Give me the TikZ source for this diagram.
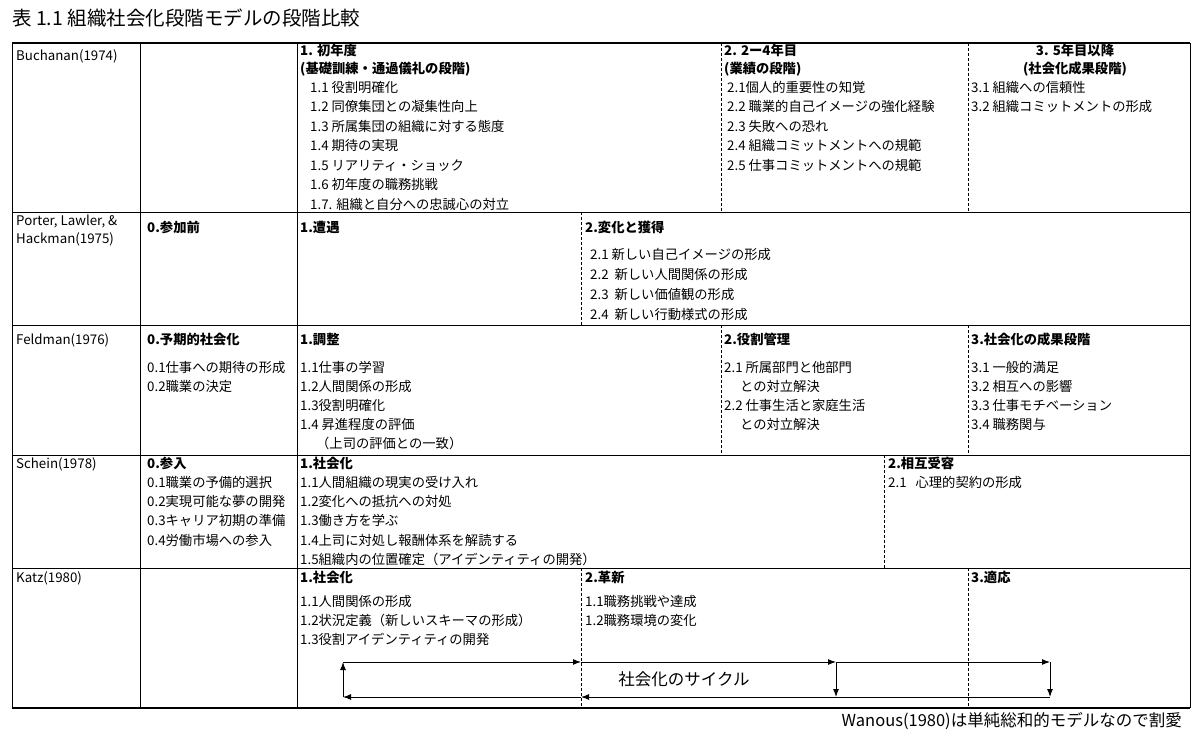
\documentclass[tikz,border=0pt]{standalone}
\usepackage{fontspec}
\setmainfont{Noto Sans CJK JP}
\usetikzlibrary{arrows.meta}
\newcommand\tx[5][]{\node[txt,#1] (#2) at (#3pt,-#4pt) {#5};}
\tikzset{txt/.style={anchor=north west,inner sep=0pt,font=\fontsize{13.3}{15}\selectfont},
 hd/.style={font=\fontsize{13.3}{15}\selectfont\bfseries},
 grid/.style={line width=0.8pt},
 dsh/.style={line width=0.7pt,dash pattern=on 3pt off 2pt},
 cyc/.style={line width=1pt,-{Latex[length=8pt,width=6pt]}},
 cycl/.style={line width=1pt}}
\begin{document}
\begin{tikzpicture}[x=1pt,y=1pt]
\useasboundingbox (0,0) rectangle (1200,-743);
\node[anchor=west,inner sep=0pt,font=\fontsize{19.5}{21}\selectfont] (title) at (12pt,-18pt) {表 1.1 組織社会化段階モデルの段階比較};
% grid
\draw[line width=1.3pt] (12,-43) -- (1190,-43);
\foreach \y in {212,325,455,568}{\draw[grid] (12,-\y) -- (1190,-\y);}
\draw[line width=1.3pt] (12,-708) -- (1190,-708);
\foreach \x in {12,140,297,1190}{\draw[grid] (\x,-43) -- (\x,-708);}
\draw[dsh] (721,-43) -- (721,-212); \draw[dsh] (968,-43) -- (968,-212);
\draw[dsh] (581,-212) -- (581,-325);
\draw[dsh] (721,-325) -- (721,-455); \draw[dsh] (968,-325) -- (968,-455);
\draw[dsh] (884,-455) -- (884,-568);
\draw[dsh] (581,-568) -- (581,-708); \draw[dsh] (968,-568) -- (968,-708);
% Buchanan
\tx{bu}{16}{49}{Buchanan(1974)}
\tx[hd]{b1}{300}{44}{1. 初年度}
\tx[hd]{b1b}{300}{62}{(基礎訓練・通過儀礼の段階)}
\node[txt,align=left,font=\fontsize{13.3}{19.5}\selectfont] (b1i) at (310pt,-81pt) {1.1 役割明確化\\1.2 同僚集団との凝集性向上\\1.3 所属集団の組織に対する態度\\1.4 期待の実現\\1.5 リアリティ・ショック\\1.6 初年度の職務挑戦\\1.7. 組織と自分への忠誠心の対立};
\tx[hd]{b2}{724}{44}{2. 2ー4年目}
\tx[hd]{b2b}{724}{62}{(業績の段階)}
\node[txt,align=left,font=\fontsize{13.3}{19.5}\selectfont] (b2i) at (727pt,-81pt) {2.1個人的重要性の知覚\\2.2 職業的自己イメージの強化経験\\2.3 失敗への恐れ\\2.4 組織コミットメントへの規範\\2.5 仕事コミットメントへの規範};
\node[txt,hd,anchor=north] (b3) at (1075pt,-44pt) {3. 5年目以降};
\node[txt,hd,anchor=north] (b3b) at (1075pt,-62pt) {(社会化成果段階)};
\node[txt,align=left,font=\fontsize{13.3}{19.5}\selectfont] (b3i) at (971pt,-81pt) {3.1 組織への信頼性\\3.2 組織コミットメントの形成};
% Porter
\node[txt,align=left,font=\fontsize{13.3}{18}\selectfont] (po) at (16pt,-215pt) {Porter, Lawler, \&\\Hackman(1975)};
\tx[hd]{p0}{147}{221}{0.参加前}
\tx[hd]{p1}{300}{221}{1.遭遇}
\tx[hd]{p2}{585}{221}{2.変化と獲得}
\node[txt,align=left,font=\fontsize{13.3}{20}\selectfont] (p2i) at (590pt,-248pt) {2.1 新しい自己イメージの形成\\2.2\ \ 新しい人間関係の形成\\2.3\ \ 新しい価値観の形成\\2.4\ \ 新しい行動様式の形成};
% Feldman
\tx{fe}{16}{333}{Feldman(1976)}
\tx[hd]{f0}{147}{333}{0.予期的社会化}
\node[txt,align=left,font=\fontsize{13.3}{19}\selectfont] (f0i) at (147pt,-361pt) {0.1仕事への期待の形成\\0.2職業の決定};
\tx[hd]{f1}{300}{333}{1.調整}
\node[txt,align=left,font=\fontsize{13.3}{19}\selectfont] (f1i) at (300pt,-361pt) {1.1仕事の学習\\1.2人間関係の形成\\1.3役割明確化\\1.4 昇進程度の評価\\\hspace{1.2em}（上司の評価との一致）};
\tx[hd]{f2}{724}{333}{2.役割管理}
\node[txt,align=left,font=\fontsize{13.3}{19}\selectfont] (f2i) at (724pt,-361pt) {2.1 所属部門と他部門\\\hspace{1.2em}との対立解決\\2.2 仕事生活と家庭生活\\\hspace{1.2em}との対立解決};
\tx[hd]{f3}{971}{333}{3.社会化の成果段階}
\node[txt,align=left,font=\fontsize{13.3}{19}\selectfont] (f3i) at (971pt,-361pt) {3.1 一般的満足\\3.2 相互への影響\\3.3 仕事モチベーション\\3.4 職務関与};
% Schein
\tx{sc}{16}{457}{Schein(1978)}
\tx[hd]{s0}{147}{457}{0.参入}
\node[txt,align=left,font=\fontsize{13.3}{19.2}\selectfont] (s0i) at (147pt,-476pt) {0.1職業の予備的選択\\0.2実現可能な夢の開発\\0.3キャリア初期の準備\\0.4労働市場への参入};
\tx[hd]{s1}{300}{457}{1.社会化}
\node[txt,align=left,font=\fontsize{13.3}{19.2}\selectfont] (s1i) at (300pt,-476pt) {1.1人間組織の現実の受け入れ\\1.2変化への抵抗への対処\\1.3働き方を学ぶ\\1.4上司に対処し報酬体系を解読する\\1.5組織内の位置確定（アイデンティティの開発）};
\tx[hd]{s2}{888}{457}{2.相互受容}
\tx{s2i}{888}{476}{2.1\ \ \ 心理的契約の形成}
% Katz
\tx{ka}{16}{571}{Katz(1980)}
\tx[hd]{k1}{300}{571}{1.社会化}
\node[txt,align=left,font=\fontsize{13.3}{19}\selectfont] (k1i) at (300pt,-595pt) {1.1人間関係の形成\\1.2状況定義（新しいスキーマの形成）\\1.3役割アイデンティティの開発};
\tx[hd]{k2}{585}{571}{2.革新}
\node[txt,align=left,font=\fontsize{13.3}{19}\selectfont] (k2i) at (585pt,-595pt) {1.1職務挑戦や達成\\1.2職務環境の変化};
\tx[hd]{k3}{971}{571}{3.適応}
% cycle
\coordinate (a1) at (343,-697); \coordinate (a2) at (343,-662);
\coordinate (a3) at (581,-662); \coordinate (a4) at (836,-662);
\coordinate (a5) at (1050,-662); \coordinate (a6) at (1050,-697);
\coordinate (a7) at (836,-697); \coordinate (a8) at (581,-697);
\draw[cyc] (a1) -- (a2);
\draw[cyc] (a2) -- (a3);
\draw[cyc] (a3) -- (a4);
\draw[cyc] (a4) -- (a5);
\draw[cyc] (a5) -- (a6);
\draw[cyc] (a4) -- (a7);
\draw[cyc] (a6) -- (a8);
\draw[cyc] (a8) -- (a1);
\node[inner sep=0pt,font=\fontsize{16.5}{18}\selectfont] (cl) at (684pt,-679pt) {社会化のサイクル};
\node[anchor=east,inner sep=0pt,font=\fontsize{16.5}{18}\selectfont] (ft) at (1182pt,-721pt) {Wanous(1980)は単純総和的モデルなので割愛};
\end{tikzpicture}
\end{document}
